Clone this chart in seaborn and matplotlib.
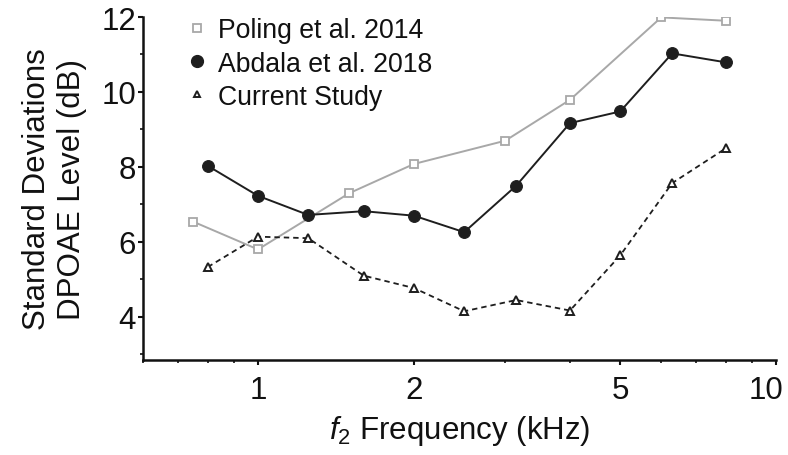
import matplotlib
matplotlib.use("Agg")
import matplotlib.pyplot as plt
from matplotlib.lines import Line2D
from matplotlib.ticker import LogLocator, FixedLocator, NullFormatter, MultipleLocator
from matplotlib.transforms import ScaledTranslation
import seaborn as sns
import pandas as pd

# f2 frequencies (kHz) and standard deviations (dB) per data set
poling_freq = [0.75, 1.0, 1.5, 2.0, 3.0, 4.0, 6.0, 8.0]
poling_sd = [6.54, 5.80, 7.30, 8.08, 8.70, 9.79, 11.99, 11.90]

abdala_freq = [0.8, 1.0, 1.25, 1.6, 2.0, 2.5, 3.15, 4.0, 5.0, 6.3, 8.0]
abdala_sd = [8.03, 7.23, 6.72, 6.82, 6.70, 6.26, 7.50, 9.17, 9.48, 11.03, 10.79]

current_freq = [0.8, 1.0, 1.25, 1.6, 2.0, 2.5, 3.15, 4.0, 5.0, 6.3, 8.0]
current_sd = [5.33, 6.14, 6.10, 5.10, 4.77, 4.15, 4.45, 4.17, 5.64, 7.57, 8.50]

series_labels = ["Poling et al. 2014", "Abdala et al. 2018", "Current Study"]
x_ticks = [1, 2, 5, 10]
x_tick_labels = ["1", "2", "5", "10"]
y_ticks = [4, 6, 8, 10, 12]

sns.set_theme(style="ticks")
plt.rcParams["font.family"] = ["Liberation Sans", "DejaVu Sans"]
plt.rcParams["mathtext.fontset"] = "custom"
plt.rcParams["mathtext.rm"] = "Liberation Sans"
plt.rcParams["mathtext.it"] = "Liberation Sans:italic"

fig = plt.figure(figsize=(7.88, 4.56), dpi=100)
ax = fig.add_axes([0.1815, 0.2083, 0.985 - 0.1815, 0.9605 - 0.2083])

poling = pd.DataFrame({"f2": poling_freq, "sd": poling_sd})
abdala = pd.DataFrame({"f2": abdala_freq, "sd": abdala_sd})
current = pd.DataFrame({"f2": current_freq, "sd": current_sd})

gray = "#a8a8a8"
dark = "#1e1e1e"
ink = "#111111"

sns.lineplot(data=poling, x="f2", y="sd", ax=ax, color=gray, linewidth=1.4,
             marker="s", markersize=6, markerfacecolor="white",
             markeredgecolor=gray, markeredgewidth=1.3, legend=False)
sns.lineplot(data=abdala, x="f2", y="sd", ax=ax, color=dark, linewidth=1.4,
             marker="o", markersize=8.5, markerfacecolor=dark,
             markeredgecolor=dark, legend=False)
sns.lineplot(data=current, x="f2", y="sd", ax=ax, color=dark,
             linewidth=1.3, marker="^", markersize=6,
             markerfacecolor="white", markeredgecolor=dark,
             markeredgewidth=1.4, legend=False)
ax.lines[-1].set_linestyle((0, (3.0, 2.2)))

ax.set_xscale("log")
ax.set_xlim(0.6, 10)
ax.set_ylim(2.85, 12)
ax.xaxis.set_major_locator(FixedLocator(x_ticks))
ax.set_xticklabels(x_tick_labels)
ax.xaxis.set_minor_locator(LogLocator(base=10, subs=[2, 3, 4, 5, 6, 7, 8, 9]))
ax.xaxis.set_minor_formatter(NullFormatter())
ax.yaxis.set_major_locator(FixedLocator(y_ticks))
ax.yaxis.set_minor_locator(MultipleLocator(1))

for side in ("top", "right"):
    ax.spines[side].set_visible(False)
for side in ("left", "bottom"):
    ax.spines[side].set_linewidth(1.8)
    ax.spines[side].set_color(ink)

ax.tick_params(axis="both", which="major", direction="out", length=3.5,
               width=1.5, color=ink, labelsize=22.5, labelcolor=ink)
ax.tick_params(axis="x", which="major", pad=7)
ax.tick_params(axis="y", which="major", pad=1.5)
ax.tick_params(axis="both", which="minor", direction="out", length=2.5,
               width=1.2, color=ink)

# keep the rightmost frequency label inside the canvas
last = ax.get_xticklabels()[-1]
last.set_transform(last.get_transform() +
                   ScaledTranslation(-10 / 100, 0, fig.dpi_scale_trans))

ax.set_xlabel(r"$f_{2}$ Frequency (kHz)", fontsize=22.5, color=ink,
              labelpad=6)
ax.set_ylabel("Standard Deviations\nDPOAE Level (dB)", fontsize=22.5,
              color=ink, labelpad=10, linespacing=1.25)

handles = [
    Line2D([], [], linestyle="none", marker="s", markersize=6,
           markerfacecolor="white", markeredgecolor=gray, markeredgewidth=1.3),
    Line2D([], [], linestyle="none", marker="o", markersize=8.5,
           markerfacecolor=dark, markeredgecolor=dark),
    Line2D([], [], linestyle="none", marker="^", markersize=5,
           markerfacecolor="white", markeredgecolor=dark, markeredgewidth=1.4),
]
ax.legend(handles, series_labels, loc="upper left",
          bbox_to_anchor=(0.055, 1.03), frameon=False, fontsize=19.2,
          handlelength=0.6, handletextpad=0.5, labelspacing=0.27,
          borderaxespad=0, labelcolor=ink)

fig.savefig("out.png", dpi=100)
